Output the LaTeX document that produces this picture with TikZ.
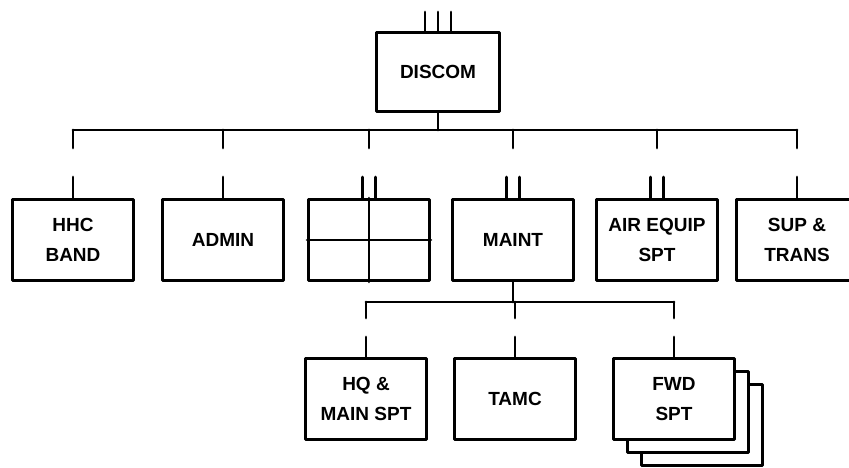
\documentclass[tikz,border=0pt]{standalone}
\usepackage{fontspec}
\setmainfont{Liberation Sans}
\begin{document}
\begin{tikzpicture}[x=1pt,y=-1pt,line cap=round,line join=round,
  unit/.style={draw,line width=2.8pt,fill=white,minimum width=121pt,minimum height=81pt,
    inner sep=2pt,align=center,font=\bfseries\fontsize{19}{30}\selectfont},
  link/.style={line width=2.8pt}]
\useasboundingbox (0,0) rectangle (849,468);

% division support command at the top, with its echelon marks
\node[unit,minimum width=123pt,minimum height=79pt] (discom) at (438,72) {DISCOM};
\coordinate (ech) at (438,12);
\draw[link] ([xshift=-13pt]ech) -- ([xshift=-13pt]discom.north);
\draw[link] (ech) -- (discom.north);
\draw[link] ([xshift=13pt]ech) -- ([xshift=13pt]discom.north);

% first row of units
\node[unit] (hhc)   at (73,240)  {HHC\\BAND};
\node[unit] (admin) at (223,240) {ADMIN};
\node[unit] (grid)  at (369,240) {};
\node[unit] (maint) at (513,240) {MAINT};
\node[unit] (air)   at (657,240) {AIR EQUIP\\SPT};
\node[unit] (sup)   at (797,240) {SUP \&\\TRANS};

% the empty unit is split in four
\draw[link] (grid.north) -- (grid.south);
\draw[link] (grid.west) -- (grid.east);

\foreach \n/\x in {hhc/73,admin/223,grid/369,maint/513,air/657,sup/797}{
  \coordinate (\n-bus) at (\x,130);
  \coordinate (\n-drop) at (\x,148);
  \coordinate (\n-stub) at (\x,177);
}
\coordinate (discom-bus) at (438,130);

% bus from DISCOM
\draw[link] (discom.south) -- (discom-bus);
\draw[link] (hhc-bus) -- (sup-bus);
\foreach \n in {hhc,admin,grid,maint,air,sup}
  \draw[link] (\n-bus) -- (\n-drop);

% stubs above the units
\foreach \n in {hhc,admin,sup}
  \draw[link] (\n-stub) -- (\n.north);
\foreach \n in {grid,maint,air}{
  \draw[link] ([xshift=-6.5pt]\n-stub) -- ([xshift=-6.5pt]\n.north);
  \draw[link] ([xshift=6.5pt]\n-stub) -- ([xshift=6.5pt]\n.north);
}

% second row under MAINT
\node[unit] (hq)   at (366,399) {HQ \&\\MAIN SPT};
\node[unit] (tamc) at (515,399) {TAMC};
\node[unit] (fwd3) at (702,425) {};
\node[unit] (fwd2) at (688,412) {};
\node[unit] (fwd)  at (674,399) {FWD\\SPT};

\foreach \n/\x in {hq/366,tamc/515,fwd/674}{
  \coordinate (\n-bus) at (\x,302);
  \coordinate (\n-drop) at (\x,318);
  \coordinate (\n-stub) at (\x,337);
}
\draw[link] (maint.south) -- (maint.south |- tamc-bus);
\draw[link] (hq-bus) -- (fwd-bus);
\foreach \n in {hq,tamc,fwd}{
  \draw[link] (\n-bus) -- (\n-drop);
  \draw[link] (\n-stub) -- (\n.north);
}

\end{tikzpicture}
\end{document}
